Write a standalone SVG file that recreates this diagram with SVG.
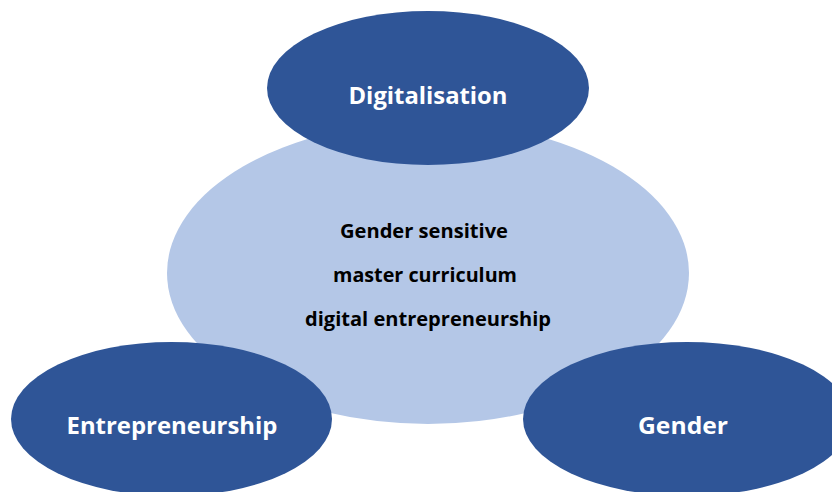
<svg xmlns="http://www.w3.org/2000/svg" width="832" height="492" viewBox="0 0 832 492">
<style>
.dark{fill:#2F5597}
.light{fill:#B4C7E7}
.lbl{font-family:"Open Sans","Noto Sans","Liberation Sans",sans-serif;font-weight:bold;fill:#FFFFFF;font-size:23px;text-anchor:middle}
.ctr{font-family:"Open Sans","Noto Sans","Liberation Sans",sans-serif;font-weight:bold;fill:#000000;font-size:19px;text-anchor:middle}
</style>
<rect width="832" height="492" fill="#FFFFFF"/>
<g id="connectors"></g>
<g id="center">
<ellipse class="light" cx="428" cy="273" rx="261" ry="151"/>
<text class="ctr" x="424" y="238" textLength="168" lengthAdjust="spacingAndGlyphs">Gender sensitive</text>
<text class="ctr" x="425" y="282" textLength="184" lengthAdjust="spacingAndGlyphs">master curriculum</text>
<text class="ctr" x="428" y="326" textLength="246" lengthAdjust="spacingAndGlyphs">digital entrepreneurship</text>
</g>
<g id="digitalisation">
<ellipse class="dark" cx="428" cy="88" rx="161" ry="77"/>
<text class="lbl" x="428" y="104" textLength="159" lengthAdjust="spacingAndGlyphs">Digitalisation</text>
</g>
<g id="entrepreneurship">
<ellipse class="dark" cx="171.5" cy="419" rx="160.5" ry="77"/>
<text class="lbl" x="172" y="434" textLength="211" lengthAdjust="spacingAndGlyphs">Entrepreneurship</text>
</g>
<g id="gender">
<ellipse class="dark" cx="687" cy="419" rx="164" ry="77"/>
<text class="lbl" x="683" y="434" textLength="90" lengthAdjust="spacingAndGlyphs">Gender</text>
</g>
</svg>
